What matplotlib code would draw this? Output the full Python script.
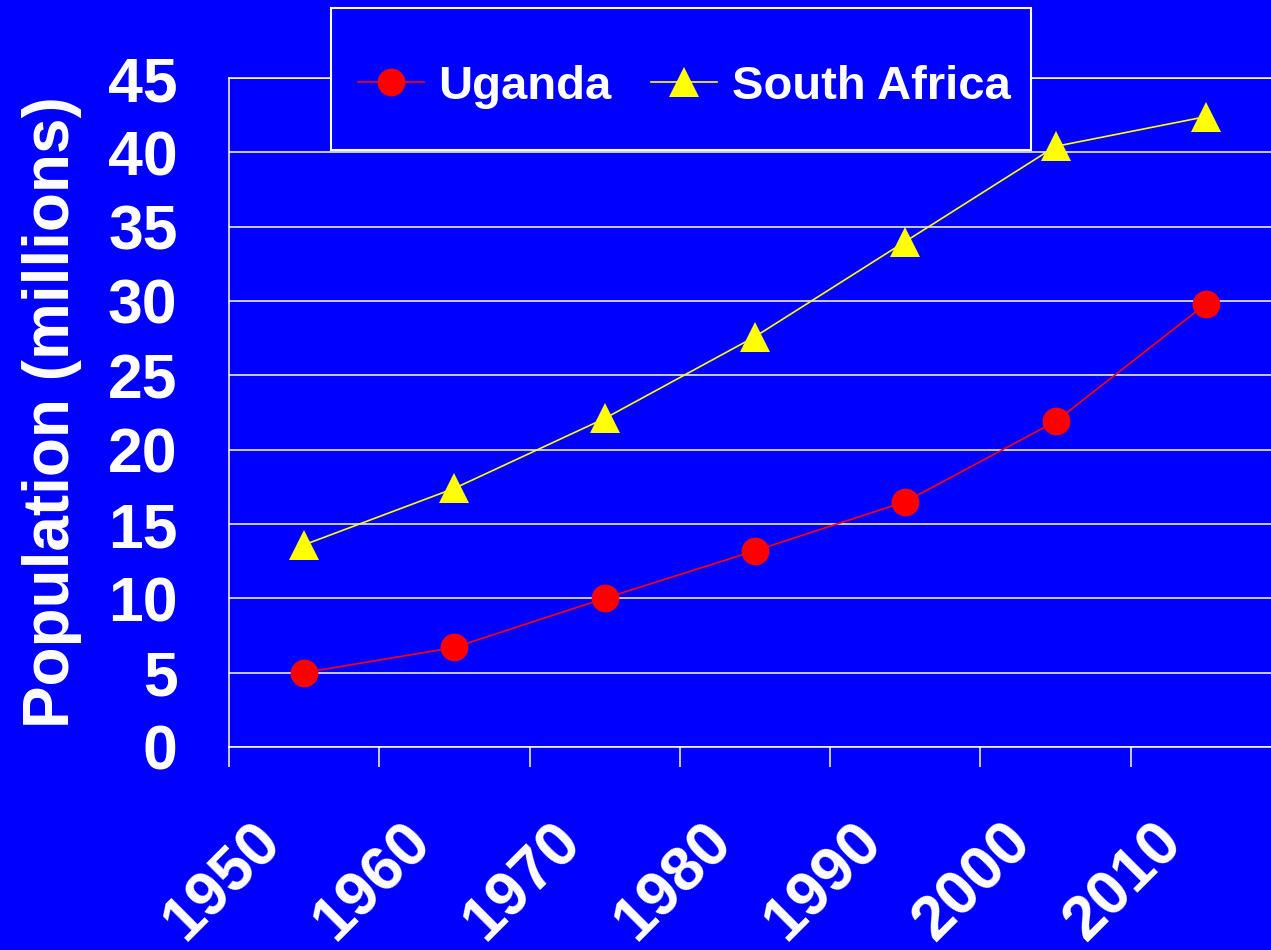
"""Population growth, Uganda vs South Africa."""
import matplotlib
matplotlib.use("Agg")
import matplotlib.pyplot as plt
from matplotlib.patches import Rectangle
from matplotlib.transforms import ScaledTranslation
import numpy as np

years = ["1950", "1960", "1970", "1980", "1990", "2000", "2010"]
uganda = [5.0, 6.7, 10.0, 13.2, 16.5, 21.9, 29.8]
south_africa = [13.6, 17.4, 22.1, 27.6, 34.0, 40.4, 42.4]
y_ticks = [0, 5, 10, 15, 20, 25, 30, 35, 40, 45]

BLUE = "#0000FF"
WHITE = "white"

plt.rcParams["font.family"] = ["Liberation Sans", "DejaVu Sans"]
plt.rcParams["font.weight"] = "bold"
plt.rcParams["axes.labelweight"] = "bold"

W, H = 1271, 950
fig = plt.figure(figsize=(W / 100, H / 100), dpi=100, facecolor=BLUE)
ax = fig.add_axes([229 / W, 1 - 747 / H, 1052 / W, 669 / H], facecolor=BLUE)

x = np.arange(len(years))
ax.plot(x, uganda, color="#FF0000", linewidth=1.2, marker="o",
        markersize=20, markeredgewidth=0, label="Uganda", zorder=3)
ax.plot(x, south_africa, color="#FFFF00", linewidth=1.2, marker="^",
        markersize=21.5, markeredgewidth=0, label="South Africa", zorder=3)

ax.set_xlim(-0.5, len(years) - 0.5)
ax.set_ylim(0, 45)

# y axis: labels only, white grid
ax.set_yticks(y_ticks)
ax.set_yticklabels([str(v) for v in y_ticks])
ax.tick_params(axis="y", length=0, pad=37, labelsize=45, labelcolor=WHITE)
ax.yaxis.grid(True, color=WHITE, linewidth=1.1)
ax.set_axisbelow(True)

# x axis: category labels at centres, tick marks at boundaries
ax.set_xticks(x)
ax.set_xticklabels(years)
ax.set_xticks(np.arange(-0.5, len(years)), minor=True)
ax.tick_params(axis="x", which="major", length=0, pad=0, labelsize=45,
               labelcolor=WHITE)
ax.tick_params(axis="x", which="minor", length=14.5, width=1.1,
               color=WHITE, direction="out")
shift = ScaledTranslation(-0.82, -1.35, fig.dpi_scale_trans)
for lbl in ax.get_xticklabels():
    lbl.set_rotation(45)
    lbl.set_rotation_mode("anchor")
    lbl.set_ha("center")
    lbl.set_va("center")
    lbl.set_transform(lbl.get_transform() + shift)

for side in ["left", "bottom", "top"]:
    ax.spines[side].set_color(WHITE)
    ax.spines[side].set_linewidth(1.1)
ax.spines["right"].set_visible(False)

ax.set_ylabel("Population (millions)", fontsize=46, fontweight="bold",
              color=WHITE)
ax.yaxis.set_label_coords((82 - 229) / 1052, 0.5)

# legend box: tall white-edged panel over the top of the plot
frame = Rectangle((331 / W, 1 - 150 / H), 700 / W, 142 / H,
                  transform=fig.transFigure, facecolor=BLUE,
                  edgecolor=WHITE, linewidth=1.5, clip_on=False, zorder=4)
ax.add_patch(frame)
leg = ax.legend(loc="center", bbox_to_anchor=(684 / W, 1 - 87 / H),
                bbox_transform=fig.transFigure, borderaxespad=0, ncol=2,
                fontsize=34, frameon=False, handlelength=1.4,
                handletextpad=0.3, columnspacing=0.85, borderpad=0)
leg.set_zorder(5)
for t in leg.get_texts():
    t.set_color(WHITE)

fig.savefig("out.png", dpi=100, facecolor=BLUE)
